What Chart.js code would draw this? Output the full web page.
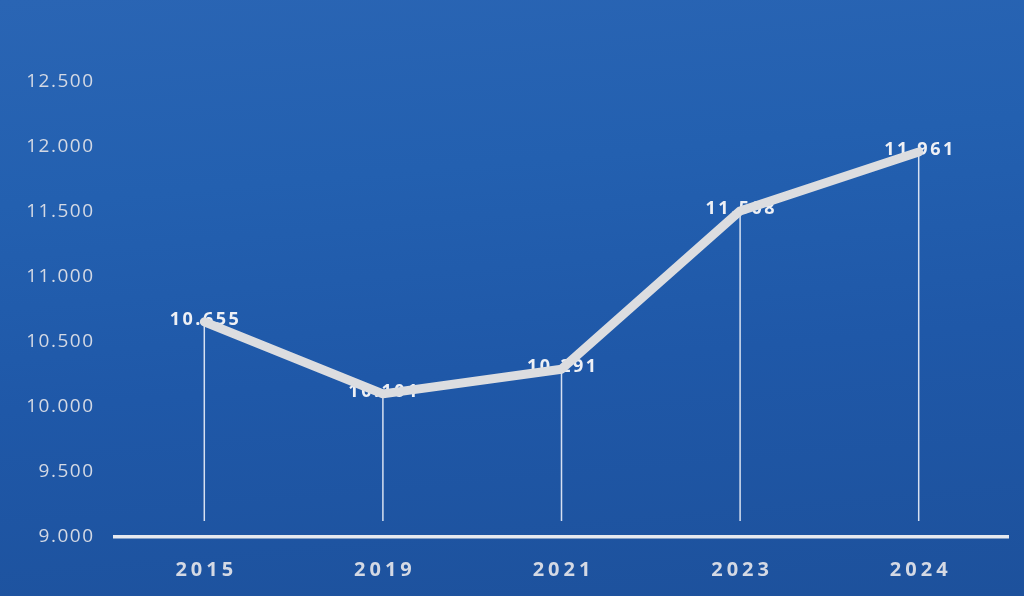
<!DOCTYPE html>
<html>
<head>
<meta charset="utf-8">
<script src="https://cdn.jsdelivr.net/npm/chart.js@4"></script>
<style>
  html, body { margin: 0; padding: 0; }
  body {
    width: 1024px; height: 596px; overflow: hidden;
    background: linear-gradient(175deg, #2a65b4 0%, #2360b0 30%, #1f58a8 60%, #1d519c 100%);
  }
  #wrap { width: 1024px; height: 596px; position: relative; }
</style>
</head>
<body>
<div id="wrap"><canvas id="chart"></canvas></div>
<script>
const years = ['2015', '2019', '2021', '2023', '2024']
const values = [10655, 10101, 10291, 11508, 11961]
const yMin = 9000
const yMax = 12500
const yStep = 500

const fmt = v => v.toLocaleString('de-DE')
const FONT = '"Open Sans", sans-serif'

function spacedText(ctx, txt, x, y, spacing, align) {
    ctx.letterSpacing = spacing + 'px'
    ctx.textAlign = align
    // canvas adds the spacing after the last glyph too, so nudge it back
    const dx = align === 'center' ? spacing / 2 : align === 'right' ? spacing : 0
    ctx.fillText(txt, x + dx, y)
}

// axis labels, drop lines and value labels (labels sit under the line)
const decor = {
    id: 'decor',
    afterDraw() {},
    beforeDatasetsDraw(chart) {
        const { ctx, scales } = chart
        const meta = chart.getDatasetMeta(0)
        const bottom = scales.y.getPixelForValue(yMin) - 16
        ctx.save()
        ctx.strokeStyle = 'rgba(235,240,250,0.9)'
        ctx.lineWidth = 1.5
        meta.data.forEach(pt => {
            ctx.beginPath()
            ctx.moveTo(pt.x, pt.y)
            ctx.lineTo(pt.x, bottom)
            ctx.stroke()
        })

        ctx.textBaseline = 'middle'
        ctx.fillStyle = '#d4d9e4'
        ctx.font = '19px ' + FONT
        scales.y.ticks.forEach((t, i) => {
            spacedText(ctx, fmt(t.value), 93, scales.y.getPixelForTick(i), 1.5, 'right')
        })
        ctx.font = 'bold 20px ' + FONT
        years.forEach((y, i) => {
            spacedText(ctx, y, scales.x.getPixelForTick(i), 570, 4, 'center')
        })

        ctx.fillStyle = '#eef0f5'
        ctx.font = 'bold 18px ' + FONT
        meta.data.forEach((pt, i) => {
            spacedText(ctx, fmt(values[i]), pt.x, pt.y - 2, 2.5, 'center')
        })
        ctx.restore()
    }
}

new Chart(document.getElementById('chart'), {
    type: 'line',
    data: {
        labels: years,
        datasets: [{
            data: values,
            borderColor: '#dcdde0',
            borderWidth: 9,
            pointRadius: 0,
            tension: 0,
            borderCapStyle: 'round',
            borderJoinStyle: 'round'
        }]
    },
    options: {
        responsive: true,
        maintainAspectRatio: false,
        animation: false,
        layout: { padding: { top: 82, right: 16, left: 0, bottom: 0 } },
        plugins: { legend: { display: false }, tooltip: { enabled: false } },
        scales: {
            x: {
                offset: true,
                grid: { display: false, drawTicks: false },
                border: { display: true, color: '#e6e9ef', width: 3.5 },
                ticks: { display: false },
                afterFit: s => { s.height = 59 }
            },
            y: {
                min: yMin,
                max: yMax,
                grid: { display: false, drawTicks: false },
                border: { display: false },
                ticks: { display: false, stepSize: yStep },
                afterFit: s => { s.width = 115 }
            }
        }
    },
    plugins: [decor]
})
</script>
</body>
</html>
